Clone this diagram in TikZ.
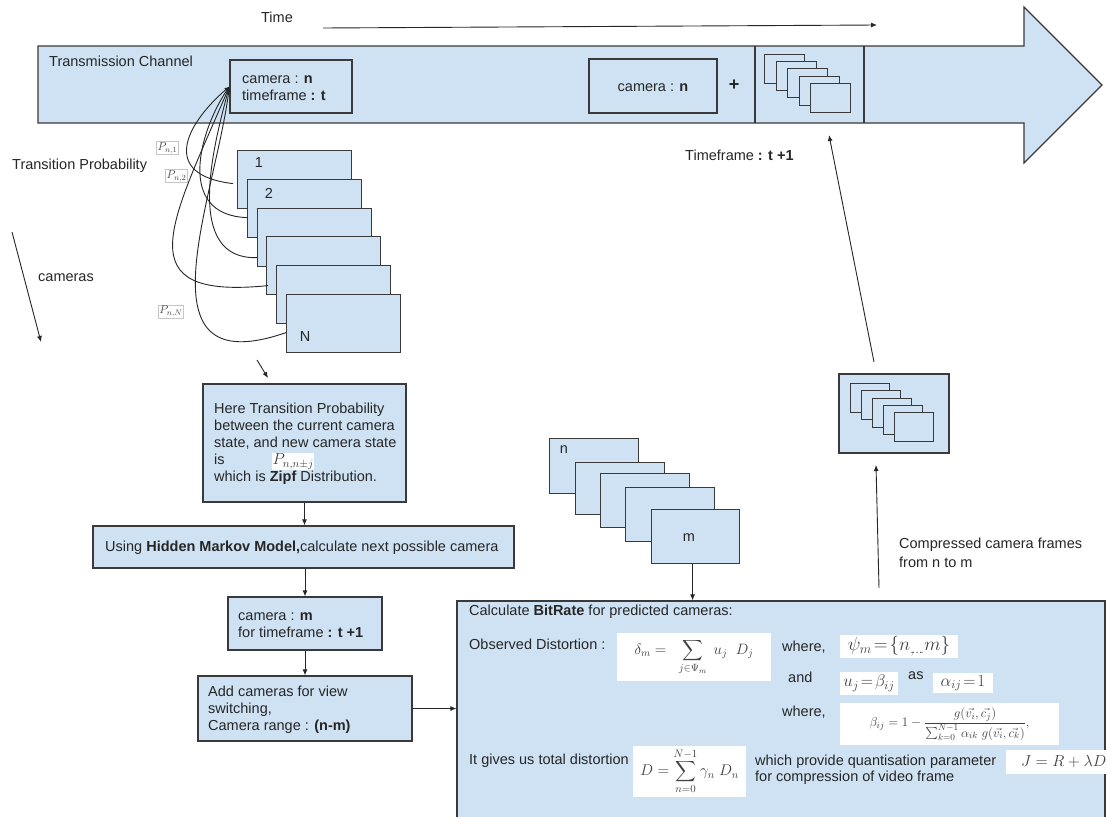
\RequirePackage{fix-cm}
\documentclass[tikz,border=0pt]{standalone}
\usepackage{amsmath}
\usepackage[no-math]{fontspec}
\setmainfont{Liberation Sans}
\usetikzlibrary{arrows.meta}
\definecolor{boxblue}{HTML}{CFE2F3}
\definecolor{edgec}{HTML}{3A3A3A}
\tikzset{
  box/.style={draw=edgec, fill=boxblue, line width=1.2pt, inner sep=0pt},
  framebox/.style={draw=edgec, fill=boxblue, line width=1.2pt, inner sep=0pt, anchor=north west},
  txt/.style={text=black!85, font=\fontsize{14.5}{17}\selectfont, inner sep=0pt},
  arr/.style={draw=black!85, line width=0.9pt, -{Latex[length=6pt,width=5pt]}},
  curvarr/.style={draw=black!85, line width=0.9pt, -{Latex[length=5pt,width=4pt]}},
  mbox/.style={fill=white, inner sep=0pt, text=black!75},
  plab/.style={draw=gray!45, fill=white, line width=0.5pt, inner sep=1pt, text=black!70, font=\fontsize{11.5}{11.5}\selectfont},
}
\begin{document}
\begin{tikzpicture}[x=1pt,y=-1pt]
\useasboundingbox (0,0) rectangle (1107,816);
\clip (0,0) rectangle (1107,816);
\fill[white] (0,0) rectangle (1107,816);

% time axis
\node[txt] (time) at (277,17) {Time};
\coordinate (ta) at (323,28);
\coordinate (tb) at (877,25);
\draw[arr] (ta) -- (tb);

% transmission channel arrow
\draw[box] (38,46) -- (1024,46) -- (1024,7) -- (1102,85) -- (1024,163) -- (1024,123) -- (38,123) -- cycle;
\draw[draw=edgec, line width=1.2pt] (755,46) -- (755,123);
\draw[draw=edgec, line width=1.2pt] (864,46) -- (864,123);
\node[txt, anchor=west] (tchan) at (49,61) {Transmission Channel};

\node[box, minimum width=122pt, minimum height=53pt] (camA) at (291,86.5) {};
\node[txt, anchor=west, align=left] (camAt) at (242,88) {camera : \textbf{n}\\timeframe \textbf{: t}};

\node[box, minimum width=128pt, minimum height=54pt] (camN) at (653,86) {};
\node[txt] (camNt) at (653,88) {camera : \textbf{n}};
\node[txt, font=\fontsize{18}{18}\selectfont\bfseries] (plus) at (734,85) {+};

\node[framebox, minimum width=40pt, minimum height=29pt] (tf1) at (764,54) {};
\node[framebox, minimum width=40pt, minimum height=29pt] (tf2) at (776,61) {};
\node[framebox, minimum width=40pt, minimum height=29pt] (tf3) at (787,68) {};
\node[framebox, minimum width=40pt, minimum height=29pt] (tf4) at (799,76) {};
\node[framebox, minimum width=40pt, minimum height=29pt] (tf5) at (810,83) {};

\node[txt, anchor=west] (tfr) at (685,155) {Timeframe \textbf{: t +1}};

% left labels
\node[txt, anchor=west] (tprob) at (12,166) {Transition Probability};
\node[txt, anchor=west] (cams) at (38,278) {cameras};
\coordinate (ca) at (12,232);
\coordinate (cb2) at (41,342);
\draw[arr] (ca) -- (cb2);

% camera stack 1..N
\node[framebox, minimum width=114pt, minimum height=58pt] (c1) at (237,150) {};
\node[framebox, minimum width=114pt, minimum height=58pt] (c2) at (247,179) {};
\node[framebox, minimum width=114pt, minimum height=58pt] (c3) at (257,208) {};
\node[framebox, minimum width=114pt, minimum height=58pt] (c4) at (266,236) {};
\node[framebox, minimum width=114pt, minimum height=58pt] (c5) at (276,265) {};
\node[framebox, minimum width=114pt, minimum height=58pt] (c6) at (286,294) {};
\node[txt] (l1) at (259,163) {1};
\node[txt] (l2) at (269,193) {2};
\node[txt] (lN) at (305,337) {N};

% transition curves
\draw[curvarr] ([shift={(-4pt,-4pt)}]c1.west) .. controls (160,175) and (185,125) .. (camA.west);
\draw[curvarr] ([yshift=-9pt]c2.west) .. controls (175,215) and (200,130) .. (camA.west);
\draw[curvarr] ([yshift=-20pt]c3.west) .. controls (185,260) and (212,150) .. (camA.west);
\draw[curvarr] ([shift={(2pt,-20pt)}]c4.west) .. controls (125,300) and (170,225) .. (camA.west);
\draw[curvarr] ([yshift=-9pt]c6.west) .. controls (135,385) and (215,200) .. (camA.west);

\node[plab] (p1) at (167.5,148) {$P_{n,1}$};
\node[plab] (p2) at (176.5,176) {$P_{n,2}$};
\node[plab] (pN) at (171,311.5) {$P_{n,N}$};

% flow on the left
\coordinate (sa) at (257,360);
\coordinate (sb) at (268,378);
\draw[arr] (sa) -- (sb);

\node[box, minimum width=203pt, minimum height=118pt] (ht) at (304.5,443) {};
\node[txt, anchor=west, align=left] (htt) at (214,444) {Here Transition Probability\\between the current camera\\state, and new camera state\\\makebox[58pt][l]{is}{\setlength{\fboxsep}{0.5pt}\colorbox{white}{\color{black!75}\fontsize{16}{16}\selectfont$P_{n,n\pm j}$}}\\which is \textbf{Zipf} Distribution.};

\node[box, minimum width=421pt, minimum height=42pt] (hmm) at (303.5,547) {};
\node[txt, anchor=west] (hmmt) at (105,548) {Using \textbf{Hidden Markov Model,}calculate next possible camera};

\node[box, minimum width=154pt, minimum height=53pt] (camM) at (305,623.5) {};
\node[txt, anchor=west, align=left] (camMt) at (238,625) {camera : \textbf{m}\\for timeframe \textbf{: t +1}};

\node[box, minimum width=214pt, minimum height=65pt] (add) at (305,708.5) {};
\node[txt, anchor=west, align=left] (addt) at (208,710) {Add cameras for view\\switching,\\Camera range : \textbf{(n-m)}};

\draw[arr] (ht.south) -- (ht.south |- hmm.north);
\draw[arr] (hmm.south -| camM.north) -- (camM.north);
\draw[arr] (camM.south) -- (add.north);

% bitrate box
\node[box, minimum width=648pt, minimum height=240pt] (br) at (781,721) {};
\draw[arr] (add.east) -- (add.east -| br.west);

\node[txt, anchor=west] (brt) at (469,612) {Calculate \textbf{BitRate} for predicted cameras:};
\node[txt, anchor=west] (obs) at (469,644) {Observed Distortion :};
\node[mbox, minimum width=154pt, minimum height=48pt] (fdelta) at (694,657) {\fontsize{15}{15}\selectfont$\displaystyle \delta_m = \;\;\sum_{j\in\Psi_m} \;u_j\;\; D_j$};
\node[txt, anchor=west] (wh1) at (782,647) {where,};
\node[mbox, minimum width=118pt, minimum height=23pt] (fpsi) at (899,646.5) {\fontsize{19}{19}\selectfont$\psi_m\!=\!\{n_{,\!\ldots\!.}m\}$};
\node[txt, anchor=west] (and) at (788,677) {and};
\node[mbox, minimum width=58pt, minimum height=23pt] (fu) at (869,683.5) {\fontsize{17}{17}\selectfont$u_j\!=\!\beta_{ij}$};
\node[txt, anchor=west] (as) at (908,676) {as};
\node[mbox, minimum width=60pt, minimum height=20pt] (falpha) at (963,683) {\fontsize{17}{17}\selectfont$\alpha_{ij}\!=\!1$};
\node[txt, anchor=west] (wh2) at (782,712) {where,};
\node[mbox, minimum width=219pt, minimum height=42pt] (fbeta) at (949.5,724) {\fontsize{13}{13}\selectfont$\displaystyle \beta_{ij}=1-\frac{g(\vec{v_i},\vec{c_j})}{\sum_{k=0}^{N-1}\alpha_{ik}\;g(\vec{v_i},\vec{c_k})},$};
\node[txt, anchor=west] (itg) at (469,761) {It gives us total distortion};
\node[mbox, minimum width=113pt, minimum height=51pt] (fD) at (689.5,771.5) {\fontsize{15.5}{15.5}\selectfont$\displaystyle D=\sum_{n=0}^{N-1}\gamma_n\;D_n$};
\node[txt, anchor=west, align=left, font=\fontsize{14.5}{15.5}\selectfont] (whp) at (755,769.5) {which provide quantisation parameter\\for compression of video frame};
\node[mbox, minimum width=106pt, minimum height=24pt, anchor=west] (fJ) at (1006,762) {\hspace*{9pt}\fontsize{16}{16}\selectfont$J=R+\lambda D$\hfill};

% stack n..m
\node[framebox, minimum width=89pt, minimum height=55pt] (s1) at (549,438) {};
\node[framebox, minimum width=89pt, minimum height=52pt] (s2) at (575,462) {};
\node[framebox, minimum width=89pt, minimum height=54pt] (s3) at (600,473) {};
\node[framebox, minimum width=89pt, minimum height=54pt] (s4) at (625,487) {};
\node[framebox, minimum width=88pt, minimum height=54pt] (s5) at (651,509) {};
\node[txt] (ln) at (564,450) {n};
\node[txt] (lm) at (689,538) {m};
\draw[arr] ([xshift=-3pt]s5.south) -- ([xshift=-3pt]s5.south |- br.north);

% compressed frames
\node[box, minimum width=110pt, minimum height=79pt] (cbx) at (894,413.5) {};
\node[framebox, minimum width=39pt, minimum height=29pt] (cf1) at (850,383) {};
\node[framebox, minimum width=39pt, minimum height=29pt] (cf2) at (861,390) {};
\node[framebox, minimum width=39pt, minimum height=29pt] (cf3) at (872,398) {};
\node[framebox, minimum width=39pt, minimum height=29pt] (cf4) at (883,405) {};
\node[framebox, minimum width=39pt, minimum height=29pt] (cf5) at (894,412) {};
\coordinate (cu1) at (879,588);
\coordinate (cu2) at (876,465);
\draw[arr] (cu1) -- (cu2);
\node[txt, anchor=west, align=left, font=\fontsize{14.5}{19}\selectfont] (cmpt) at (899,552.5) {Compressed camera frames\\from n to m};
\coordinate (up1) at (874,362);
\coordinate (up2) at (829,135);
\draw[arr] (up1) -- (up2);
\end{tikzpicture}
\end{document}
